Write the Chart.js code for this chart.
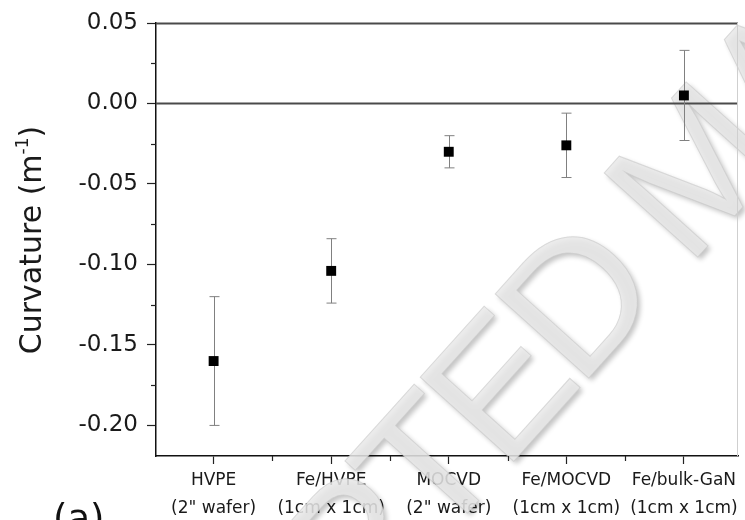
<!DOCTYPE html>
<html>
<head>
<meta charset="utf-8">
<script src="https://cdn.jsdelivr.net/npm/chart.js@4.4.0/dist/chart.umd.min.js"></script>
<style>
  html, body { margin: 0; padding: 0; background: #fff; }
  #wrap { width: 745px; height: 520px; }
</style>
</head>
<body>
<div id="wrap"><canvas id="chart" width="745" height="520"></canvas></div>
<script>
// Samples on the x axis (two-line labels)
const categories = [
  ["HVPE", "(2\" wafer)"],
  ["Fe/HVPE", "(1cm x 1cm)"],
  ["MOCVD", "(2\" wafer)"],
  ["Fe/MOCVD", "(1cm x 1cm)"],
  ["Fe/bulk-GaN", "(1cm x 1cm)"],
];
// Curvature (m^-1) and its error
const curvature = [-0.160, -0.104, -0.030, -0.026, 0.005];
const curvatureErr = [0.040, 0.020, 0.010, 0.020, 0.028];

const yMajorTicks = [0.05, 0.00, -0.05, -0.10, -0.15, -0.20];
const yMinorTicks = [0.025, -0.025, -0.075, -0.125, -0.175];
const xMinorTicks = [0.5, 1.5, 2.5, 3.5];

const FONT = "'DejaVu Sans', 'Liberation Sans', Arial, sans-serif";
const TEXT_COLOR = "#1a1a1a";

// watermark, drawn over the axes but under the data
const watermark = {
  id: "watermark",
  beforeDatasetsDraw(chart) {
    const { ctx } = chart;
    const size = 183;
    ctx.save();
    ctx.globalAlpha = 0.85;
    // anchor: baseline at the start of the "M"
    ctx.translate(697, 258);
    ctx.rotate((-48 * Math.PI) / 180);
    ctx.font = size + "px 'Liberation Sans', Arial, sans-serif";
    if ("letterSpacing" in ctx) ctx.letterSpacing = "-10px";
    ctx.textBaseline = "alphabetic";
    const ox = -ctx.measureText("ACCEPTED ").width - 0.075 * size;
    ctx.shadowColor = "rgba(0,0,0,0.28)";
    ctx.shadowBlur = 5;
    ctx.shadowOffsetX = 3;
    ctx.shadowOffsetY = 3;
    ctx.fillStyle = "#e9e9e9";
    ctx.fillText("ACCEPTED MANUSCRIPT", ox, 0);
    ctx.shadowColor = "transparent";
    ctx.strokeStyle = "rgba(200,200,200,0.7)";
    ctx.lineWidth = 1;
    ctx.strokeText("ACCEPTED MANUSCRIPT", ox, 0);
    ctx.restore();
  },
};

// reference lines: frame top and zero line
const refLines = {
  id: "refLines",
  beforeDatasetsDraw(chart) {
    const { ctx, chartArea, scales } = chart;
    ctx.save();
    ctx.strokeStyle = "#4a4a4a";
    ctx.lineWidth = 2;
    [0.05, 0].forEach((v) => {
      const y = Math.round(scales.y.getPixelForValue(v)) + 0.5;
      ctx.beginPath();
      ctx.moveTo(chartArea.left, y);
      ctx.lineTo(chartArea.right, y);
      ctx.stroke();
    });
    ctx.strokeStyle = "#cfcfcf";
    ctx.lineWidth = 1;
    ctx.beginPath();
    ctx.moveTo(chartArea.right - 0.5, chartArea.top);
    ctx.lineTo(chartArea.right - 0.5, chartArea.bottom);
    ctx.stroke();
    ctx.restore();
  },
};

// error bars
const errorBars = {
  id: "errorBars",
  beforeDatasetsDraw(chart) {
    const { ctx, scales } = chart;
    ctx.save();
    ctx.strokeStyle = "#808080";
    ctx.lineWidth = 1;
    curvature.forEach((v, i) => {
      const x = Math.round(scales.x.getPixelForValue(i)) + 0.5;
      const yTop = scales.y.getPixelForValue(v + curvatureErr[i]);
      const yBot = scales.y.getPixelForValue(v - curvatureErr[i]);
      ctx.beginPath();
      ctx.moveTo(x, yTop);
      ctx.lineTo(x, yBot);
      ctx.moveTo(x - 5, yTop);
      ctx.lineTo(x + 5, yTop);
      ctx.moveTo(x - 5, yBot);
      ctx.lineTo(x + 5, yBot);
      ctx.stroke();
    });
    ctx.restore();
  },
};

// minor ticks, axis title, panel label
const decorations = {
  id: "decorations",
  afterDraw(chart) {
    const { ctx, chartArea, scales } = chart;
    ctx.save();
    ctx.strokeStyle = "#222";
    ctx.lineWidth = 1.2;
    yMinorTicks.forEach((v) => {
      const y = Math.round(scales.y.getPixelForValue(v)) + 0.5;
      ctx.beginPath();
      ctx.moveTo(chartArea.left - 5, y);
      ctx.lineTo(chartArea.left, y);
      ctx.stroke();
    });
    xMinorTicks.forEach((v) => {
      const x = Math.round(scales.x.getPixelForValue(v)) + 0.5;
      ctx.beginPath();
      ctx.moveTo(x, chartArea.bottom);
      ctx.lineTo(x, chartArea.bottom + 5);
      ctx.stroke();
    });

    // y title with superscript
    ctx.fillStyle = TEXT_COLOR;
    ctx.translate(30, 240);
    ctx.rotate(-Math.PI / 2);
    const main = "Curvature (m";
    const sup = "-1";
    const close = ")";
    ctx.font = "30px " + FONT;
    const w1 = ctx.measureText(main).width;
    const w3 = ctx.measureText(close).width;
    ctx.font = "17px " + FONT;
    const w2 = ctx.measureText(sup).width;
    let x = -(w1 + w2 + w3) / 2;
    ctx.textBaseline = "alphabetic";
    ctx.font = "30px " + FONT;
    ctx.fillText(main, x, 11);
    x += w1;
    ctx.font = "17px " + FONT;
    ctx.fillText(sup, x, -2);
    x += w2;
    ctx.font = "30px " + FONT;
    ctx.fillText(close, x, 11);
    ctx.restore();

    // panel label
    ctx.save();
    ctx.fillStyle = "#111";
    ctx.font = "37px " + FONT;
    ctx.textBaseline = "alphabetic";
    ctx.fillText("(a)", 53, 531);
    ctx.restore();
  },
};

const ctx = document.getElementById("chart").getContext("2d");

new Chart(ctx, {
  type: "scatter",
  data: {
    datasets: [
      {
        data: curvature.map((v, i) => ({ x: i, y: v })),
        pointStyle: "rect",
        pointRadius: 7,
        pointHoverRadius: 7,
        backgroundColor: "#000",
        borderColor: "#000",
        borderWidth: 0,
      },
    ],
  },
  options: {
    responsive: false,
    animation: false,
    layout: { padding: { top: 23, right: 2, left: 0, bottom: 0 } },
    plugins: {
      legend: { display: false },
      tooltip: { enabled: false },
    },
    scales: {
      x: {
        type: "linear",
        min: -0.49,
        max: 4.46,
        afterFit(scale) {
          scale.height = 64;
        },
        afterBuildTicks(scale) {
          scale.ticks = categories.map((c, i) => ({ value: i }));
        },
        ticks: {
          callback: (v) => categories[v],
          font: { family: FONT, size: 17, lineHeight: 1.65 },
          color: TEXT_COLOR,
          padding: 3,
          maxRotation: 0,
          autoSkip: false,
        },
        grid: { drawOnChartArea: false, tickLength: 8, tickColor: "#222", tickWidth: 1.2 },
        border: { color: "#111", width: 1.5 },
      },
      y: {
        min: -0.219,
        max: 0.05,
        afterFit(scale) {
          scale.width = 156;
        },
        afterBuildTicks(scale) {
          scale.ticks = yMajorTicks.map((v) => ({ value: v }));
        },
        ticks: {
          callback: (v) => v.toFixed(2),
          font: { family: FONT, size: 23 },
          color: TEXT_COLOR,
          padding: 9,
        },
        grid: { drawOnChartArea: false, tickLength: 9, tickColor: "#222", tickWidth: 1.2 },
        border: { color: "#111", width: 1.5 },
      },
    },
  },
  plugins: [watermark, refLines, errorBars, decorations],
});
</script>
</body>
</html>
